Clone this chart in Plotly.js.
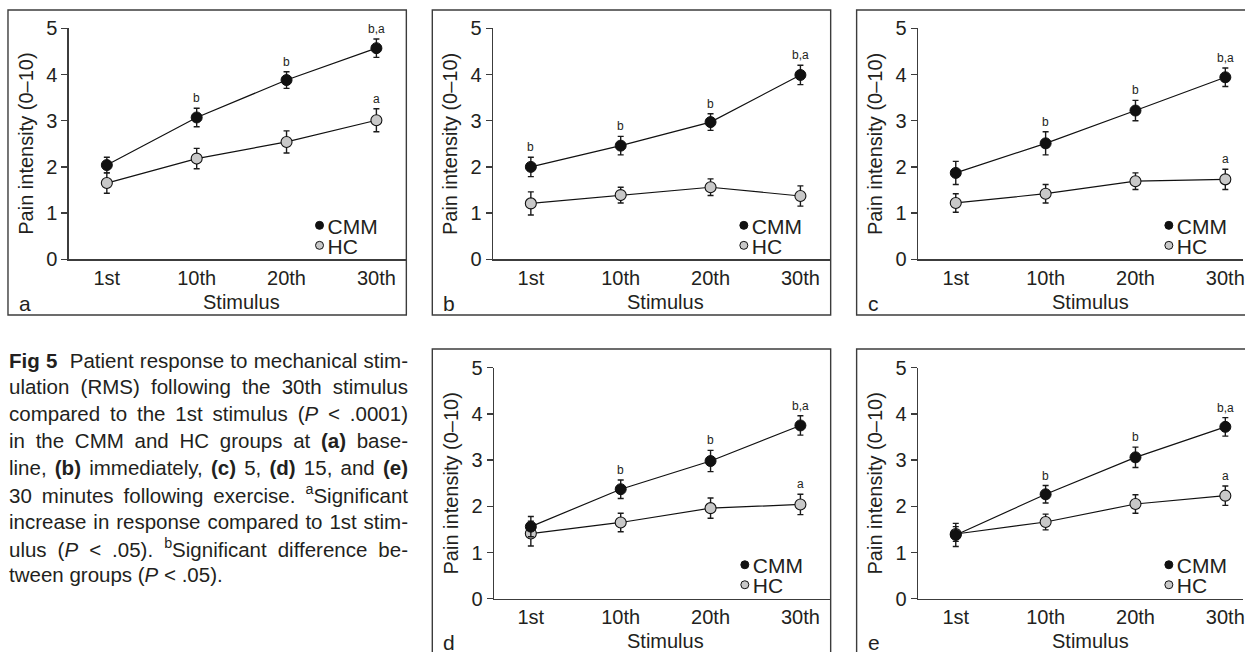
<!DOCTYPE html>
<html><head><meta charset="utf-8">
<script src="https://cdn.plot.ly/plotly-3.0.1.min.js"></script>
<style>html,body{margin:0;padding:0;background:#fff;} #chart{width:1245px;height:652px;}</style>
</head><body><div id="chart"></div>
<script>
// ---------- data ----------
const categories = ['1st', '10th', '20th', '30th'];
const seriesNames = ['CMM', 'HC'];
const panelLetters = ['a', 'b', 'c', 'd', 'e'];
const yTitle = 'Pain intensity (0\u201310)';
const xTitle = 'Stimulus';

const cmmA = [2.04, 3.07, 3.88, 4.57];  const cmmErrA = [0.17, 0.20, 0.18, 0.20];
const hcA  = [1.65, 2.18, 2.54, 3.01];  const hcErrA  = [0.22, 0.22, 0.24, 0.25];
const cmmB = [2.00, 2.46, 2.97, 3.99];  const cmmErrB = [0.21, 0.20, 0.18, 0.21];
const hcB  = [1.21, 1.39, 1.56, 1.37];  const hcErrB  = [0.25, 0.17, 0.18, 0.22];
const cmmC = [1.87, 2.51, 3.22, 3.94];  const cmmErrC = [0.25, 0.25, 0.22, 0.20];
const hcC  = [1.22, 1.42, 1.69, 1.73];  const hcErrC  = [0.20, 0.20, 0.18, 0.22];
const cmmD = [1.56, 2.37, 2.98, 3.75];  const cmmErrD = [0.22, 0.20, 0.23, 0.21];
const hcD  = [1.41, 1.65, 1.96, 2.04];  const hcErrD  = [0.27, 0.20, 0.22, 0.22];
const cmmE = [1.38, 2.26, 3.06, 3.72];  const cmmErrE = [0.25, 0.19, 0.22, 0.20];
const hcE  = [1.40, 1.66, 2.05, 2.23];  const hcErrE  = [0.16, 0.17, 0.20, 0.21];

const sigCmmA = ['', 'b', 'b', 'b,a'];  const sigHcA = ['', '', '', 'a'];
const sigCmmB = ['b', 'b', 'b', 'b,a']; const sigHcB = ['', '', '', ''];
const sigCmmC = ['', 'b', 'b', 'b,a'];  const sigHcC = ['', '', '', 'a'];
const sigCmmD = ['', 'b', 'b', 'b,a'];  const sigHcD = ['', '', '', 'a'];
const sigCmmE = ['', 'b', 'b', 'b,a'];  const sigHcE = ['', '', '', 'a'];

const captionLines = [
  '<b>Fig 5</b>\u00a0 Patient response to mechanical stim-',
  'ulation (RMS) following the 30th stimulus',
  'compared to the 1st stimulus (<i>P</i> &lt; .0001)',
  'in the CMM and HC groups at <b>(a)</b> base-',
  'line, <b>(b)</b> immediately, <b>(c)</b> 5, <b>(d)</b> 15, and <b>(e)</b>',
  '30 minutes following exercise. <sup>a</sup>Significant',
  'increase in response compared to 1st stim-',
  'ulus (<i>P</i> &lt; .05). <sup>b</sup>Significant difference be-',
  'tween groups (<i>P</i> &lt; .05).'
];

const panelData = [
  {cmm: cmmA, cmmErr: cmmErrA, hc: hcA, hcErr: hcErrA, sigCmm: sigCmmA, sigHc: sigHcA},
  {cmm: cmmB, cmmErr: cmmErrB, hc: hcB, hcErr: hcErrB, sigCmm: sigCmmB, sigHc: sigHcB},
  {cmm: cmmC, cmmErr: cmmErrC, hc: hcC, hcErr: hcErrC, sigCmm: sigCmmC, sigHc: sigHcC},
  {cmm: cmmD, cmmErr: cmmErrD, hc: hcD, hcErr: hcErrD, sigCmm: sigCmmD, sigHc: sigHcD},
  {cmm: cmmE, cmmErr: cmmErrE, hc: hcE, hcErr: hcErrE, sigCmm: sigCmmE, sigHc: sigHcE}
];

// ---------- layout geometry (pixels) ----------
const W = 1245, H = 652;
const STEP = 90;
const geom = [
  {ax: 69,    y0: 259.3, y5: 28.3,  cat0: 107,   xR: 407,  bL: 8,   bR: 407,  bT: 10,  bB: 315},
  {ax: 494,   y0: 259.3, y5: 28.3,  cat0: 531.7, xR: 832,  bL: 433, bR: 832,  bT: 10,  bB: 315},
  {ax: 919.7, y0: 259.3, y5: 28.3,  cat0: 957.3, xR: 1245, bL: 858, bR: 1262, bT: 10,  bB: 315},
  {ax: 495,   y0: 598.7, y5: 367.7, cat0: 531.7, xR: 832,  bL: 433, bR: 832,  bT: 349, bB: 660},
  {ax: 919.7, y0: 598.7, y5: 367.7, cat0: 957.3, xR: 1245, bL: 858, bR: 1262, bT: 349, bB: 660}
];
const INK = '#231f20', AXC = '#3c3c3c';
const FONT = 'Liberation Sans, Arial, Helvetica, sans-serif';
const CMM_FILL = '#111111', HC_FILL = '#c8c8c8';
const LEG_STEP = 20;
const CAP_W = 399, CAP_X = 8, CAP_Y0 = 360, CAP_LH = 26.85;

const px = v => v / W;
const py = v => 1 - v / H;

const data = [];
const layout = {
  width: W, height: H,
  margin: {l: 0, r: 0, t: 0, b: 0},
  paper_bgcolor: '#fff', plot_bgcolor: 'rgba(0,0,0,0)',
  font: {family: FONT, color: INK, size: 20},
  showlegend: true,
  annotations: [], shapes: []
};

// caption first (indices 0..8)
captionLines.forEach((t, i) => {
  layout.annotations.push({
    xref: 'paper', yref: 'paper', x: px(CAP_X), y: py(CAP_Y0 + i * CAP_LH),
    xanchor: 'left', yanchor: 'middle', align: 'left', showarrow: false,
    borderpad: 0, text: t, font: {size: 20.5, color: INK, family: FONT}
  });
});

geom.forEach((g, i) => {
  const s = i === 0 ? '' : String(i + 1);
  const d = panelData[i];
  const xa = 'x' + s, ya = 'y' + s, lg = 'legend' + s;
  const errStyle = {type: 'data', visible: true, color: '#1a1a1a', thickness: 1.4, width: 3};
  data.push({
    type: 'scatter', mode: 'lines+markers', name: seriesNames[1], x: categories, y: d.hc,
    error_y: Object.assign({array: d.hcErr}, errStyle),
    line: {color: '#111', width: 1.2},
    marker: {size: 11, color: HC_FILL, line: {color: '#111', width: 1.1}},
    xaxis: xa, yaxis: ya, showlegend: false, cliponaxis: false
  });
  data.push({
    type: 'scatter', mode: 'lines+markers', name: seriesNames[0], x: categories, y: d.cmm,
    error_y: Object.assign({array: d.cmmErr}, errStyle),
    line: {color: '#111', width: 1.2},
    marker: {size: 11, color: CMM_FILL, line: {color: '#111', width: 1}},
    xaxis: xa, yaxis: ya, showlegend: false, cliponaxis: false
  });
  // legend entries
  data.push({type: 'scatter', mode: 'markers', name: seriesNames[0], x: [null], y: [null],
    marker: {size: 8, color: CMM_FILL, line: {color: '#111', width: 1}},
    xaxis: xa, yaxis: ya, legend: lg, showlegend: true, hoverinfo: 'skip'});
  data.push({type: 'scatter', mode: 'markers', name: seriesNames[1], x: [null], y: [null],
    marker: {size: 8, color: HC_FILL, line: {color: '#111', width: 1}},
    xaxis: xa, yaxis: ya, legend: lg, showlegend: true, hoverinfo: 'skip'});

  layout['xaxis' + s] = {
    domain: [px(g.ax), px(g.xR)], anchor: ya,
    type: 'category', categoryorder: 'array', categoryarray: categories,
    range: [(g.ax - g.cat0) / STEP, (g.xR - g.cat0) / STEP],
    showline: true, linecolor: AXC, linewidth: 1.5,
    ticks: '', showgrid: false, zeroline: false, fixedrange: true,
    tickfont: {size: 20, color: INK}, ticklabelstandoff: 0
  };
  layout['yaxis' + s] = {
    domain: [py(g.y0), py(g.y5)], anchor: xa,
    range: [0, 5], tick0: 0, dtick: 1,
    ticks: 'outside', ticklen: 6, tickwidth: 1.5, tickcolor: AXC,
    showline: true, linecolor: AXC, linewidth: 1.5,
    showgrid: false, zeroline: false, fixedrange: true,
    tickfont: {size: 20, color: INK}
  };
  layout[lg] = {
    x: px(g.ax + 251 - 20), xanchor: 'left',
    y: py(g.y0 - 32.6 - 21.5), yanchor: 'top',
    bgcolor: 'rgba(0,0,0,0)', borderwidth: 0,
    font: {size: 21, color: INK, family: FONT},
    itemwidth: 30, traceorder: 'normal'
  };
  // box
  layout.shapes.push({type: 'rect', xref: 'paper', yref: 'paper',
    x0: px(g.bL), x1: px(g.bR), y0: py(g.bB), y1: py(g.bT),
    line: {color: AXC, width: 1.4}, fillcolor: 'rgba(0,0,0,0)', layer: 'below'});
  // titles
  layout.annotations.push({xref: 'paper', yref: 'paper', x: px(g.ax - 43), y: py((g.y0 + g.y5) / 2),
    text: yTitle, textangle: -90, showarrow: false, xanchor: 'center', yanchor: 'middle',
    font: {size: 20, color: INK, family: FONT}});
  layout.annotations.push({xref: 'paper', yref: 'paper', x: px(g.cat0 + 1.5 * STEP), y: py(g.y0 + 42.4),
    text: xTitle, showarrow: false, xanchor: 'center', yanchor: 'middle',
    font: {size: 20, color: INK, family: FONT}});
  layout.annotations.push({xref: 'paper', yref: 'paper', x: px(g.bL + 9), y: py(g.y0 + 44),
    text: panelLetters[i], showarrow: false, xanchor: 'left', yanchor: 'middle',
    font: {size: 21, color: INK, family: FONT}});
  // significance labels
  [[d.cmm, d.cmmErr, d.sigCmm], [d.hc, d.hcErr, d.sigHc]].forEach(([v, e, sg]) => {
    sg.forEach((lab, j) => {
      if (!lab) return;
      layout.annotations.push({xref: xa, yref: ya, x: categories[j], y: v[j] + e[j],
        yshift: 10, text: lab, showarrow: false, xanchor: 'center', yanchor: 'middle',
        font: {size: 12, color: INK, family: FONT}});
    });
  });
});

function tweak(gd) {
  // tighten legend items (symbol closer to text, rows closer)
  gd.querySelectorAll('g.groups').forEach(grp => {
    let base = null;
    grp.querySelectorAll('g.traces').forEach((it, k) => {
      const m = /translate\(\s*([-\d.e]+)[ ,]+([-\d.e]+)/.exec(it.getAttribute('transform') || '');
      const tx = m ? +m[1] : 0, ty = m ? +m[2] : 0;
      if (base === null) base = ty;
      it.setAttribute('transform', 'translate(' + tx + ',' + (base + k * LEG_STEP) + ')');
      const t = it.querySelector('text');
      if (t) {
        const x = +t.getAttribute('x');
        if (x > 32) t.setAttribute('x', x - 12);
      }
    });
  });
  // justify caption lines
  captionLines.forEach((line, i) => {
    if (i === captionLines.length - 1) return;
    const t = gd.querySelector('g.annotation[data-index="' + i + '"] text.annotation-text');
    if (!t) return;
    t.style.wordSpacing = '0px';
    const len = t.getComputedTextLength();
    const n = (t.textContent.match(/[ \u00a0]/g) || []).length;
    if (n > 0) t.style.wordSpacing = ((CAP_W - len) / n) + 'px';
  });
}

Plotly.newPlot('chart', data, layout, {staticPlot: true, displayModeBar: false}).then(gd => {
  tweak(gd);
  gd.on('plotly_afterplot', () => tweak(gd));
  setTimeout(() => tweak(gd), 50);
});
</script>
</body></html>
